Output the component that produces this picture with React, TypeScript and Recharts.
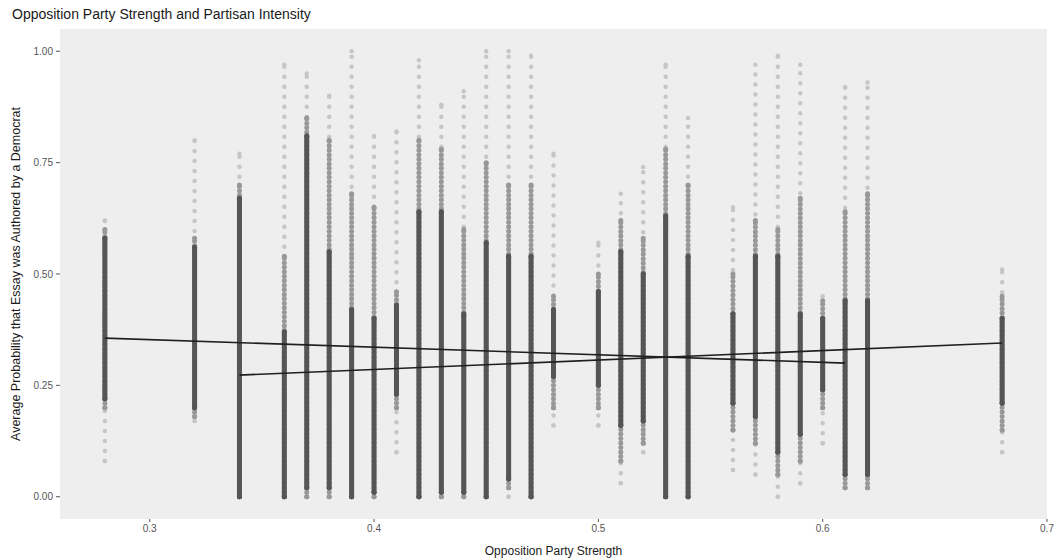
import { ScatterChart, Scatter, XAxis, YAxis, CartesianGrid, ErrorBar, Label } from "recharts";

// opposition party strength values that have essays (one vertical strip each)
const stripX = [0.28, 0.32, 0.34, 0.36, 0.37, 0.38, 0.39, 0.4, 0.41, 0.42, 0.43, 0.44, 0.45, 0.46, 0.47, 0.48, 0.5, 0.51, 0.52, 0.53, 0.54, 0.56, 0.57, 0.58, 0.59, 0.6, 0.61, 0.62, 0.68];

// dark, heavily overplotted part of each strip
const denseLo = [0.22, 0.2, 0.0, 0.0, 0.02, 0.02, 0.0, 0.01, 0.23, 0.0, 0.01, 0.01, 0.0, 0.04, 0.0, 0.27, 0.25, 0.16, 0.17, 0.0, 0.0, 0.21, 0.18, 0.1, 0.14, 0.24, 0.05, 0.05, 0.21];
const denseHi = [0.58, 0.56, 0.67, 0.37, 0.81, 0.55, 0.42, 0.4, 0.43, 0.64, 0.64, 0.41, 0.57, 0.54, 0.54, 0.42, 0.46, 0.55, 0.5, 0.63, 0.54, 0.41, 0.54, 0.54, 0.41, 0.4, 0.44, 0.44, 0.4];

// medium density
const midLo = [0.2, 0.18, 0.0, 0.0, 0.0, 0.0, 0.0, 0.0, 0.2, 0.0, 0.0, 0.0, 0.0, 0.02, 0.0, 0.2, 0.2, 0.08, 0.12, 0.0, 0.0, 0.15, 0.12, 0.05, 0.08, 0.2, 0.02, 0.02, 0.15];
const midHi = [0.6, 0.58, 0.7, 0.54, 0.85, 0.8, 0.68, 0.65, 0.46, 0.8, 0.78, 0.6, 0.75, 0.7, 0.7, 0.45, 0.5, 0.62, 0.58, 0.78, 0.7, 0.5, 0.62, 0.6, 0.67, 0.44, 0.64, 0.68, 0.45];

// scattered single points
const sparseLo = [0.08, 0.17, 0.0, 0.0, 0.0, 0.0, 0.0, 0.0, 0.1, 0.0, 0.0, 0.0, 0.0, 0.0, 0.0, 0.16, 0.16, 0.03, 0.1, 0.0, 0.0, 0.06, 0.05, 0.0, 0.03, 0.12, 0.02, 0.02, 0.1];
const sparseHi = [0.62, 0.8, 0.77, 0.97, 0.95, 0.9, 1.0, 0.81, 0.82, 0.98, 0.88, 0.91, 1.0, 1.0, 0.99, 0.77, 0.57, 0.68, 0.74, 0.97, 0.85, 0.65, 0.97, 0.99, 0.97, 0.45, 0.92, 0.93, 0.51];

// the two fitted lines
const fitAx = [0.28, 0.61];
const fitAy = [0.356, 0.3];
const fitBx = [0.34, 0.68];
const fitBy = [0.273, 0.345];

const xTicks = [0.3, 0.4, 0.5, 0.6, 0.7];
const yTicks = [0, 0.25, 0.5, 0.75, 1];

const band = (lo: number[], hi: number[]) =>
  stripX.map((x, i) => ({ x, y: (lo[i] + hi[i]) / 2, err: (hi[i] - lo[i]) / 2 }));

const denseData = band(denseLo, denseHi);
const midData = band(midLo, midHi);
const sparseData = band(sparseLo, sparseHi);
const fitA = fitAx.map((x, i) => ({ x, y: fitAy[i] }));
const fitB = fitBx.map((x, i) => ({ x, y: fitBy[i] }));

const NoDot = () => <g />;

const tickStyle = { fontSize: 10, fill: "#555", fontFamily: "Liberation Sans, Arial, sans-serif" };

export default function App() {
  return (
    <div
      style={{
        position: "absolute",
        left: 0,
        top: 0,
        width: 1057,
        height: 560,
        background: "#fff",
        fontFamily: "Liberation Sans, Arial, sans-serif",
      }}
    >
      <div style={{ position: "absolute", left: 12, top: 6, fontSize: 14, lineHeight: "16px", color: "#1a1a1a" }}>
        Opposition Party Strength and Partisan Intensity
      </div>
      <ScatterChart width={1057} height={560} margin={{ top: 29, right: 10, bottom: 0, left: 0 }}>
        <CartesianGrid fill="#eeeeee" stroke="none" horizontal={false} vertical={false} />
        <XAxis
          type="number"
          dataKey="x"
          domain={[0.26, 0.7]}
          ticks={xTicks}
          tickFormatter={v => `${v}`}
          allowDataOverflow
          axisLine={false}
          tickSize={3}
          tickMargin={3}
          tickLine={{ stroke: "#555" }}
          tick={tickStyle}
          height={41}
        >
          <Label value="Opposition Party Strength" position="insideBottom" offset={5} style={{ fontSize: 12, fill: "#1a1a1a" }} />
        </XAxis>
        <YAxis
          type="number"
          dataKey="y"
          domain={[-0.05, 1.05]}
          ticks={yTicks}
          tickFormatter={v => v.toFixed(2)}
          allowDataOverflow
          axisLine={false}
          tickSize={4}
          tickMargin={3}
          tickLine={{ stroke: "#555" }}
          tick={tickStyle}
          width={60}
        >
          <Label
            value="Average Probability that Essay was Authored by a Democrat"
            angle={-90}
            position="insideLeft"
            offset={16}
            style={{ fontSize: 12.5, fill: "#1a1a1a", textAnchor: "middle" }}
          />
        </YAxis>
        <Scatter data={sparseData} shape={NoDot} isAnimationActive={false}>
          <ErrorBar dataKey="err" direction="y" width={0} stroke="#c6c6c6" strokeWidth={4.5} strokeDasharray="0 10" strokeLinecap="round" />
        </Scatter>
        <Scatter data={midData} shape={NoDot} isAnimationActive={false}>
          <ErrorBar dataKey="err" direction="y" width={0} stroke="#989898" strokeWidth={5} strokeDasharray="0 4.5" strokeLinecap="round" />
        </Scatter>
        <Scatter data={denseData} shape={NoDot} isAnimationActive={false}>
          <ErrorBar dataKey="err" direction="y" width={0} stroke="#555555" strokeWidth={5} strokeLinecap="round" />
        </Scatter>
        <Scatter data={fitA} shape={NoDot} line={{ stroke: "#1f1f1f", strokeWidth: 1.6 }} isAnimationActive={false} />
        <Scatter data={fitB} shape={NoDot} line={{ stroke: "#1f1f1f", strokeWidth: 1.6 }} isAnimationActive={false} />
      </ScatterChart>
    </div>
  );
}
